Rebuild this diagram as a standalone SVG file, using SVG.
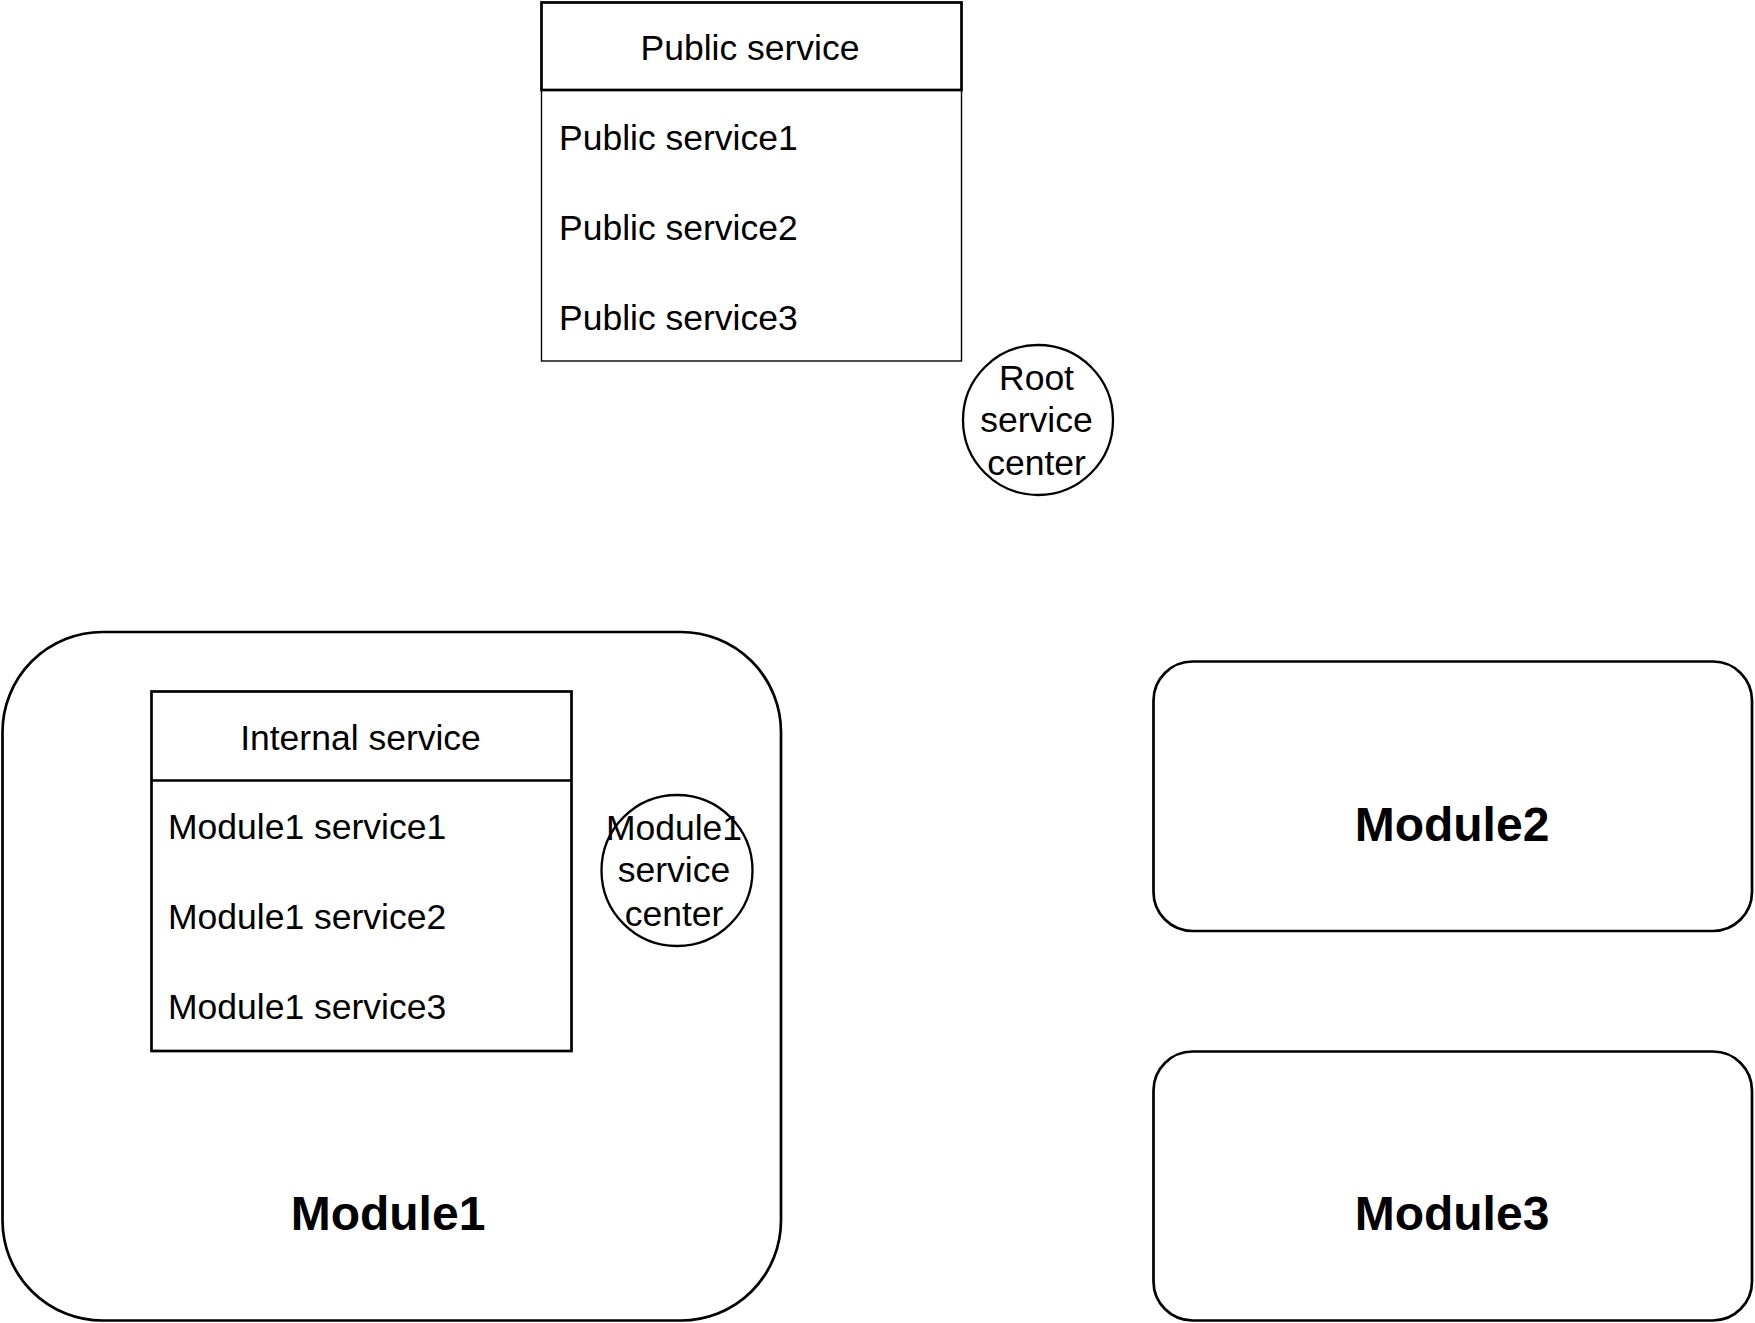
<svg xmlns="http://www.w3.org/2000/svg" width="1755" height="1323" viewBox="0 0 1755 1323">
<style>
  .t { font-family: "Liberation Sans", Arial, Helvetica, sans-serif; font-size: 35.5px; fill: #000; }
  .c { text-anchor: middle; }
  .b { font-family: "Liberation Sans", Arial, Helvetica, sans-serif; font-size: 48px; font-weight: bold; fill: #000; text-anchor: middle; }
  .box { fill: #fff; stroke: #000; stroke-width: 2.7; }
  .thin { fill: #fff; stroke: #000; stroke-width: 1.4; }
  .circ { fill: #fff; stroke: #000; stroke-width: 2.3; }
</style>
<rect width="1755" height="1323" fill="#fff"/>

<g id="module1">
  <rect class="box" x="2.5" y="632" width="778.5" height="688.5" rx="100" ry="100"/>
  <text class="b" x="388" y="1230">Module1</text>
</g>

<g id="internal-service">
  <rect class="box" x="151.5" y="691.5" width="420" height="359.5"/>
  <line x1="151.5" y1="780.5" x2="571.5" y2="780.5" stroke="#000" stroke-width="2.7"/>
  <text class="t c" x="360.5" y="750">Internal service</text>
  <text class="t" x="168" y="839">Module1 service1</text>
  <text class="t" x="168" y="929">Module1 service2</text>
  <text class="t" x="168" y="1019">Module1 service3</text>
</g>

<g id="module1-service-center">
  <circle class="circ" cx="677" cy="870.5" r="75.5"/>
  <text class="t c" x="674" y="840">Module1</text>
  <text class="t c" x="674" y="882">service</text>
  <text class="t c" x="674" y="926">center</text>
</g>

<g id="public-service">
  <rect class="thin" x="541.5" y="2.5" width="420" height="358.5"/>
  <rect class="box" x="541.5" y="2.5" width="420" height="87.5"/>
  <text class="t c" x="750" y="60">Public service</text>
  <text class="t" x="559" y="150">Public service1</text>
  <text class="t" x="559" y="239.5">Public service2</text>
  <text class="t" x="559" y="330">Public service3</text>
</g>

<g id="root-service-center">
  <circle class="circ" cx="1038" cy="420" r="75"/>
  <text class="t c" x="1036.5" y="390">Root</text>
  <text class="t c" x="1036.5" y="432">service</text>
  <text class="t c" x="1036.5" y="475">center</text>
</g>

<g id="module2">
  <rect class="box" x="1153.5" y="661.5" width="598.5" height="269.5" rx="39" ry="39"/>
  <text class="b" x="1452" y="841">Module2</text>
</g>

<g id="module3">
  <rect class="box" x="1153.5" y="1051.5" width="598.5" height="269" rx="39" ry="39"/>
  <text class="b" x="1452" y="1230">Module3</text>
</g>

<g id="connectors"></g>
</svg>
